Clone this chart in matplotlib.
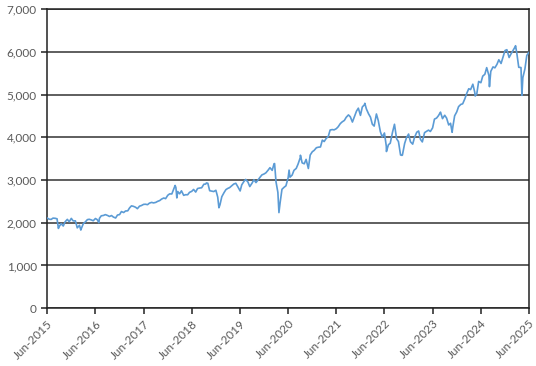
import matplotlib
matplotlib.use("Agg")
import matplotlib.pyplot as plt
import matplotlib.dates as mdates
import pandas as pd

VALUES_2015 = [2111, 2084, 2077, 2108, 2104, 2092, 1914, 1978, 1923, 2023, 2079, 2023, 2102, 2043]
VALUES_2016 = [2044, 1880, 1940, 1865, 1978, 2015, 2073, 2081, 2065, 2047, 2099, 2071,
               2102, 2162, 2171, 2190, 2170, 2147, 2168, 2133, 2111, 2180, 2191, 2262]
VALUES_2017 = [2239, 2275, 2279, 2349, 2395, 2385, 2363, 2329, 2388, 2402, 2430, 2433,
               2423, 2459, 2476, 2464, 2476, 2500, 2519, 2553, 2579, 2564, 2642, 2675]
VALUES_2018 = [2674, 2786, 2822, 2731, 2677, 2747, 2641, 2656, 2655, 2711, 2735, 2779,
               2718, 2801, 2813, 2818, 2902, 2905, 2924, 2750, 2740, 2730, 2760, 2600]
VALUES_2019 = [2420, 2610, 2706, 2775, 2803, 2822, 2867, 2905, 2924, 2850, 2752, 2886,
               2964, 3014, 2953, 2847, 2926, 3007, 2940, 2995, 3066, 3120, 3141, 3168]
VALUES_2020 = [3231, 3289, 3226, 3380, 2954, 2711, 2470, 2783, 2830, 2864, 3055, 3066,
               3115, 3227, 3271, 3373, 3527, 3401, 3380, 3483, 3270, 3585, 3662, 3694]
VALUES_2021 = [3756, 3768, 3774, 3934, 3901, 3968, 4020, 4170, 4181, 4174, 4202, 4246,
               4320, 4360, 4395, 4468, 4524, 4481, 4357, 4471, 4613, 4682, 4513, 4709]
VALUES_2022 = [4766, 4663, 4546, 4471, 4306, 4263, 4546, 4392, 4132, 4008, 4101, 3790,
               3825, 3863, 4118, 4297, 3966, 3901, 3586, 3583, 3856, 3992, 4076, 3895]
VALUES_2023 = [3840, 3999, 4119, 4148, 3951, 3892, 4109, 4138, 4168, 4136, 4221, 4426,
               4450, 4505, 4577, 4437, 4516, 4450, 4288, 4328, 4238, 4503, 4595, 4719]
VALUES_2024 = [4770, 4784, 4906, 5030, 5137, 5117, 5243, 5061, 5018, 5308, 5278, 5432,
               5475, 5631, 5446, 5543, 5648, 5626, 5709, 5815, 5728, 5870, 6032, 6051]
VALUES_2025 = [5868, 5950, 6041, 6115, 5955, 5639, 5633, 5396, 5604, 5917, 5990]

# turning points that fall between the semi-monthly readings
EXTRA_DATES = ["2015-08-25", "2016-02-11", "2016-06-27", "2018-01-26", "2018-02-08",
               "2018-09-20", "2018-12-24", "2019-06-03", "2020-02-19", "2020-03-23",
               "2020-06-08", "2020-09-02", "2022-01-03", "2022-06-16", "2022-08-16",
               "2022-10-12", "2023-07-31", "2023-10-27", "2024-04-19", "2024-08-05",
               "2025-02-19", "2025-04-08"]
EXTRA_VALUES = [1867, 1829, 2000, 2873, 2581, 2931, 2351, 2744, 3386, 2237,
                3232, 3580, 4796, 3667, 4305, 3577, 4589, 4117, 4967, 5186,
                6144, 4982]

Y_TICKS = [0, 1000, 2000, 3000, 4000, 5000, 6000, 7000]

values = (VALUES_2015 + VALUES_2016 + VALUES_2017 + VALUES_2018 + VALUES_2019 +
          VALUES_2020 + VALUES_2021 + VALUES_2022 + VALUES_2023 + VALUES_2024 + VALUES_2025)
dates = pd.date_range("2015-06-01", periods=len(values), freq="SMS")
s = pd.concat([pd.Series(values, index=dates),
               pd.Series(EXTRA_VALUES, index=pd.to_datetime(EXTRA_DATES))]).sort_index()

plt.rcParams["font.family"] = ["Lato", "DejaVu Sans"]
fig = plt.figure(figsize=(5.36, 3.66), dpi=100)
ax = fig.add_axes([0.088, 0.158, 0.899, 0.817])

ax.plot(s.index, s.values, color="#5B9BD5", linewidth=1.2, zorder=3)

ax.set_ylim(0, 7000)
ax.set_yticks(Y_TICKS)
ax.yaxis.set_major_formatter(matplotlib.ticker.FuncFormatter(lambda v, p: f"{v:,.0f}"))
ax.grid(axis="y", color="#333333", linewidth=1.1)
ax.set_axisbelow(True)

ax.set_xlim(pd.Timestamp("2015-06-01"), pd.Timestamp("2025-06-01"))
xt = pd.date_range("2015-06-01", "2025-06-01", freq="12MS")
ax.set_xticks(xt)
ax.xaxis.set_major_formatter(mdates.DateFormatter("%b-%Y"))
for lab in ax.get_xticklabels():
    lab.set_rotation(45)
    lab.set_ha("right")
    lab.set_va("top")
    lab.set_rotation_mode("anchor")

for sp in ax.spines.values():
    sp.set_color("#222222")
    sp.set_linewidth(1.1)
ax.tick_params(axis="both", colors="#222222", labelcolor="#595959", labelsize=8.5,
               length=4, width=1.1)
ax.tick_params(axis="x", pad=3)

fig.savefig("out.png", dpi=100)
